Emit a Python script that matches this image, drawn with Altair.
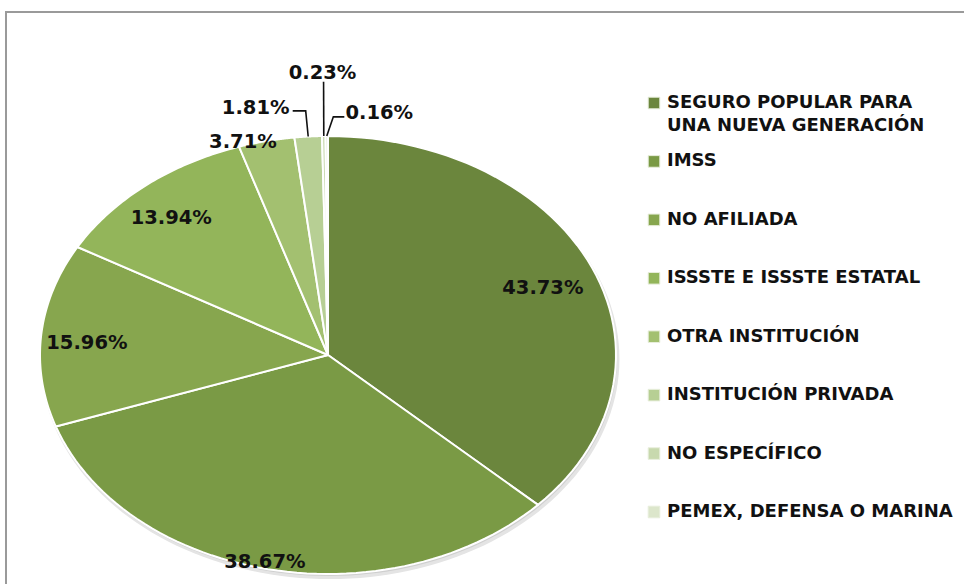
import math
import altair as alt
import numpy as np
import pandas as pd

# ---------------- data ----------------
categories = [
    "SEGURO POPULAR PARA UNA NUEVA GENERACIÓN",
    "IMSS",
    "NO AFILIADA",
    "ISSSTE E ISSSTE ESTATAL",
    "OTRA INSTITUCIÓN",
    "INSTITUCIÓN PRIVADA",
    "NO ESPECÍFICO",
    "PEMEX, DEFENSA O MARINA",
]
values = [43.73, 38.67, 15.96, 13.94, 3.71, 1.81, 0.23, 0.16]
legend_line1 = [
    "SEGURO POPULAR PARA", "IMSS", "NO AFILIADA", "ISSSTE E ISSSTE ESTATAL",
    "OTRA INSTITUCIÓN", "INSTITUCIÓN PRIVADA", "NO ESPECÍFICO", "PEMEX, DEFENSA O MARINA",
]
legend_line2 = ["UNA NUEVA GENERACIÓN", "", "", "", "", "", "", ""]

# ---------------- styles / layout ----------------
colors = ["#6B863D", "#7A9A45", "#87A64E", "#93B55A", "#A3C070", "#B7CF94", "#C8D9AE", "#DCE6CB"]
W, H = 964, 584
CX, CY, RX, RY = 328, 355, 288, 219          # ellipse centre and radii in pixels
label_r = [0.807, 0.97, 0.839, 0.829, 1.016, 1.156, 1.289, 1.12]   # label radius (fraction)
label_da = [1.0, 1.0, -1.4, -1.8, -4.55, -8.6, 0.0, 9.4]            # label angle nudge (deg)
leader_offsets = {5: [(50, 3), (37, 3)], 6: [(1, 9), (1, 9)], 7: [(-46, 4), (-35, 4)]}
FONT = "DejaVu Sans"

xs = alt.Scale(domain=[(0 - CX) / RX, (W - CX) / RX], nice=False, zero=False)
ys = alt.Scale(domain=[(CY - H) / RY, CY / RY], nice=False, zero=False)
cscale = alt.Scale(domain=categories, range=colors)

df = pd.DataFrame({
    "cat": categories, "val": values, "ord": list(range(len(values))),
    "lr": label_r, "lda": label_da,
    "l1": legend_line1, "l2": legend_line2,
})

base = (
    alt.Chart(df)
    .transform_window(cum="sum(val)", sort=[alt.SortField("ord")], frame=[None, 0])
    .transform_joinaggregate(total="sum(val)")
)

# ---------------- frame ----------------
frame = alt.Chart(pd.DataFrame({"k": [0]})).mark_rect(
    fillOpacity=0, stroke="#9a9a9a", strokeWidth=2
).encode(x=alt.value(6), x2=alt.value(1000), y=alt.value(12), y2=alt.value(700))

# ---------------- shadow ----------------
def shadow(dx, dy, col, rr):
    return (
        alt.Chart(pd.DataFrame({"k": [0]}))
        .transform_calculate(s="sequence(0, 181)")
        .transform_flatten(["s"])
        .transform_calculate(
            px=f"{rr}*sin(2*PI*datum.s/180)", py=f"{rr}*cos(2*PI*datum.s/180)"
        )
        .mark_line(filled=True, color=col, xOffset=dx, yOffset=dy, strokeWidth=0)
        .encode(
            x=alt.X("px:Q", scale=xs, axis=None),
            y=alt.Y("py:Q", scale=ys, axis=None),
            order="s:Q",
        )
    )

shadow1 = shadow(2, 4, "#e4e4e4", 1.005)
shadow2 = shadow(1, 2, "#cfcfcf", 1.0)

# ---------------- pie (elliptical) ----------------
pie = (
    base.transform_calculate(s="sequence(-1, 62)")
    .transform_flatten(["s"])
    .transform_calculate(
        ang="2*PI*((datum.cum - datum.val) + datum.val*clamp(datum.s, 0, 60)/60)/datum.total"
    )
    .transform_calculate(
        px="(datum.s < 0 || datum.s > 60) ? 0 : sin(datum.ang)",
        py="(datum.s < 0 || datum.s > 60) ? 0 : cos(datum.ang)",
    )
    .mark_line(filled=True, stroke="white", strokeWidth=2, strokeJoin="round")
    .encode(
        x=alt.X("px:Q", scale=xs, axis=None),
        y=alt.Y("py:Q", scale=ys, axis=None),
        color=alt.Color("cat:N", scale=cscale, legend=None),
        detail="cat:N",
        order="s:Q",
    )
)

# ---------------- labels ----------------
labels = (
    base.transform_calculate(
        mid="2*PI*(datum.cum - datum.val/2)/datum.total + datum.lda*PI/180",
        lab="format(datum.val, '.2f') + '%'",
    )
    .transform_calculate(
        lx="datum.lr*sin(datum.mid)", ly="datum.lr*cos(datum.mid)"
    )
    .mark_text(font=FONT, fontSize=19.5, fontWeight="bold", color="#111111",
               align="center", baseline="middle")
    .encode(
        x=alt.X("lx:Q", scale=xs, axis=None),
        y=alt.Y("ly:Q", scale=ys, axis=None),
        text="lab:N",
    )
)

# ---------------- leader lines ----------------
tot = float(sum(values))
cum = np.cumsum(values)
rows = []
for i, offs in leader_offsets.items():
    mid = 2 * math.pi * (cum[i] - values[i] / 2) / tot
    a = mid + label_da[i] * math.pi / 180
    lx, ly = label_r[i] * math.sin(a), label_r[i] * math.cos(a)
    pts = [(math.sin(mid), math.cos(mid))]
    for (dx, dy) in offs:
        pts.append((lx + dx / RX, ly - dy / RY))
    for k, (px, py) in enumerate(pts):
        rows.append({"cat": categories[i], "k": k, "px": px, "py": py})
leaders = alt.Chart(pd.DataFrame(rows)).mark_line(color="#111111", strokeWidth=1.6).encode(
    x=alt.X("px:Q", scale=xs, axis=None),
    y=alt.Y("py:Q", scale=ys, axis=None),
    detail="cat:N",
    order="k:Q",
)

# ---------------- legend ----------------
ly_scale = alt.Scale(type="point", domain=categories, range=[103, 512], padding=0)
swatch = alt.Chart(df).mark_square(size=135, opacity=1, stroke="#e8eedc", strokeWidth=1).encode(
    x=alt.value(654),
    y=alt.Y("cat:N", scale=ly_scale, axis=None),
    color=alt.Color("cat:N", scale=cscale, legend=None),
)
leg1 = alt.Chart(df).mark_text(font=FONT, fontSize=18, fontWeight="bold", color="#111111",
                               align="left", baseline="middle").encode(
    x=alt.value(667),
    y=alt.Y("cat:N", scale=ly_scale, axis=None),
    text="l1:N",
)
leg2 = alt.Chart(df).transform_filter("datum.l2 != ''").mark_text(
    font=FONT, fontSize=18, fontWeight="bold", color="#111111",
    align="left", baseline="middle", dy=23).encode(
    x=alt.value(667),
    y=alt.Y("cat:N", scale=ly_scale, axis=None),
    text="l2:N",
)

chart = (
    alt.layer(frame, shadow1, shadow2, pie, labels, leaders, swatch, leg1, leg2)
    .resolve_scale(y="independent")
    .properties(width=W, height=H, padding=0, autosize=alt.AutoSizeParams(type="none"),
                background="white")
    .configure_view(strokeWidth=0)
)

chart.save("out.html", embed_options={"renderer": "svg", "actions": False})
